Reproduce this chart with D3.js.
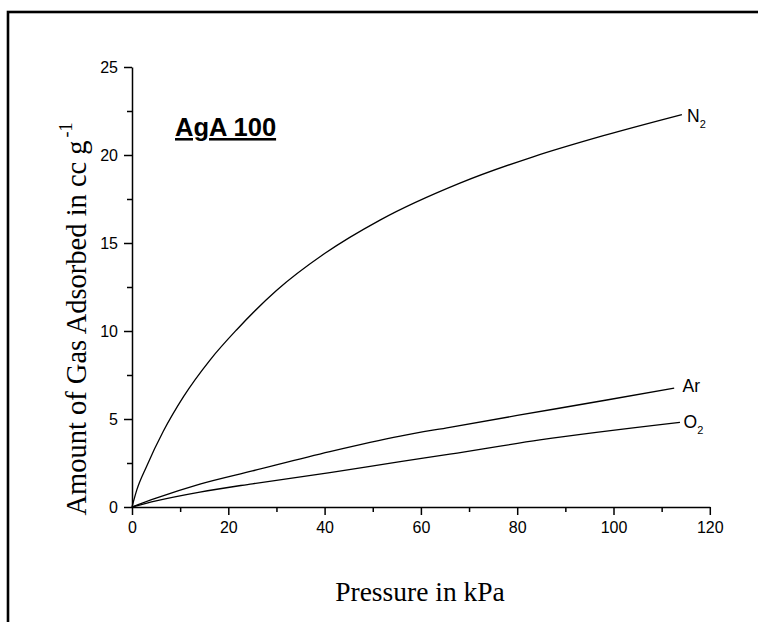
<!DOCTYPE html>
<html lang="en">
<head>
<meta charset="UTF-8">
<title>AgA 100</title>
<script src="https://cdnjs.cloudflare.com/ajax/libs/d3/7.8.5/d3.min.js"></script>
<style>
  body { margin: 0; background: #fff; }
  svg { display: block; }
</style>
</head>
<body>
<div id="chart"></div>
<script>
// values (pressure in kPa, amount in cc/g)
const n2Pressure = [0, 1, 3, 6.5, 10.7, 16.2, 21.7, 30, 40, 51.5, 68.1, 83.3, 97.9, 114.2];
const n2Amount   = [0, 0.97, 2.29, 4.3, 6.27, 8.35, 10.06, 12.3, 14.4, 16.3, 18.4, 19.9, 21.1, 22.3];
const arPressure = [0, 5, 14.1, 25, 41.1, 55.7, 66, 80, 98.6, 112.6];
const arAmount   = [0, 0.5, 1.3, 2.05, 3.15, 4.03, 4.53, 5.2, 6.08, 6.76];
const o2Pressure = [0, 5, 14.1, 25, 41.1, 55.7, 66, 84.7, 113.8];
const o2Amount   = [0, 0.35, 0.85, 1.32, 1.95, 2.58, 3.0, 3.81, 4.81];

const xTicks = [0, 20, 40, 60, 80, 100, 120];
const yTicks = [0, 5, 10, 15, 20, 25];

const width = 758, height = 622;
const x0 = 132, x1 = 709.8, y0 = 507, y1 = 67;

const svg = d3.select("#chart").append("svg")
    .attr("width", width)
    .attr("height", height);

// frame (open to the right and bottom)
svg.append("rect")
    .attr("x", 8).attr("y", 12)
    .attr("width", 800).attr("height", 700)
    .attr("fill", "none")
    .attr("stroke", "#000")
    .attr("stroke-width", 2.6);

const x = d3.scaleLinear().domain([0, 120]).range([x0, x1]);
const y = d3.scaleLinear().domain([0, 25]).range([y0, y1]);

// minor ticks first, then major axis on top
svg.append("g")
    .attr("transform", `translate(0,${y0})`)
    .call(d3.axisBottom(x).tickValues(d3.range(10, 120, 20)).tickSize(5).tickFormat(""))
    .call(g => g.select(".domain").remove());
svg.append("g")
    .attr("transform", `translate(${x0},0)`)
    .call(d3.axisLeft(y).tickValues(d3.range(2.5, 25, 5)).tickSize(5).tickFormat(""))
    .call(g => g.select(".domain").remove());

svg.append("g")
    .attr("transform", `translate(0,${y0})`)
    .call(d3.axisBottom(x).tickValues(xTicks).tickSize(8).tickSizeOuter(0).tickPadding(7));
svg.append("g")
    .attr("transform", `translate(${x0},0)`)
    .call(d3.axisLeft(y).tickValues(yTicks).tickSize(8).tickSizeOuter(0).tickPadding(6));

svg.selectAll(".tick line, .domain")
    .attr("stroke", "#000")
    .attr("stroke-width", 1.5);
svg.selectAll(".tick text")
    .attr("font-family", "Arial, 'Liberation Sans', sans-serif")
    .attr("font-size", 16)
    .attr("fill", "#000");

// curves
const series = [
    { name: "N", sub: "2", xs: n2Pressure, ys: n2Amount, lx: 687, ly: 121.5 },
    { name: "Ar", sub: "", xs: arPressure, ys: arAmount, lx: 682.5, ly: 391.5 },
    { name: "O", sub: "2", xs: o2Pressure, ys: o2Amount, lx: 683.5, ly: 428 }
];

const line = d3.line()
    .x(d => x(d[0]))
    .y(d => y(d[1]))
    .curve(d3.curveMonotoneX);

series.forEach(s => {
    const pts = s.xs.map((v, i) => [v, s.ys[i]]);
    svg.append("path")
        .datum(pts)
        .attr("d", line)
        .attr("fill", "none")
        .attr("stroke", "#000")
        .attr("stroke-width", 1.3);

    const t = svg.append("text")
        .attr("x", s.lx)
        .attr("y", s.ly)
        .attr("font-family", "Arial, 'Liberation Sans', sans-serif")
        .attr("font-size", 17.5)
        .text(s.name);
    if (s.sub) {
        t.append("tspan")
            .attr("font-size", 11)
            .attr("dy", 6)
            .text(s.sub);
    }
});

// sample name
svg.append("text")
    .attr("x", 175)
    .attr("y", 136)
    .attr("font-family", "Arial, 'Liberation Sans', sans-serif")
    .attr("font-weight", "bold")
    .attr("font-size", 25.5)
    .attr("text-decoration", "underline")
    .text("AgA 100");

// axis titles
svg.append("text")
    .attr("x", 420)
    .attr("y", 601)
    .attr("text-anchor", "middle")
    .attr("font-family", "'Times New Roman', 'Liberation Serif', serif")
    .attr("font-size", 27.5)
    .text("Pressure in kPa");

const yt = svg.append("text")
    .attr("transform", "translate(86,319) rotate(-90)")
    .attr("text-anchor", "middle")
    .attr("font-family", "'Times New Roman', 'Liberation Serif', serif")
    .attr("font-size", 28.5)
    .text("Amount of Gas Adsorbed in cc g");
yt.append("tspan")
    .attr("font-size", 18)
    .attr("dy", -14)
    .attr("dx", 3)
    .text("-1");
</script>
</body>
</html>
